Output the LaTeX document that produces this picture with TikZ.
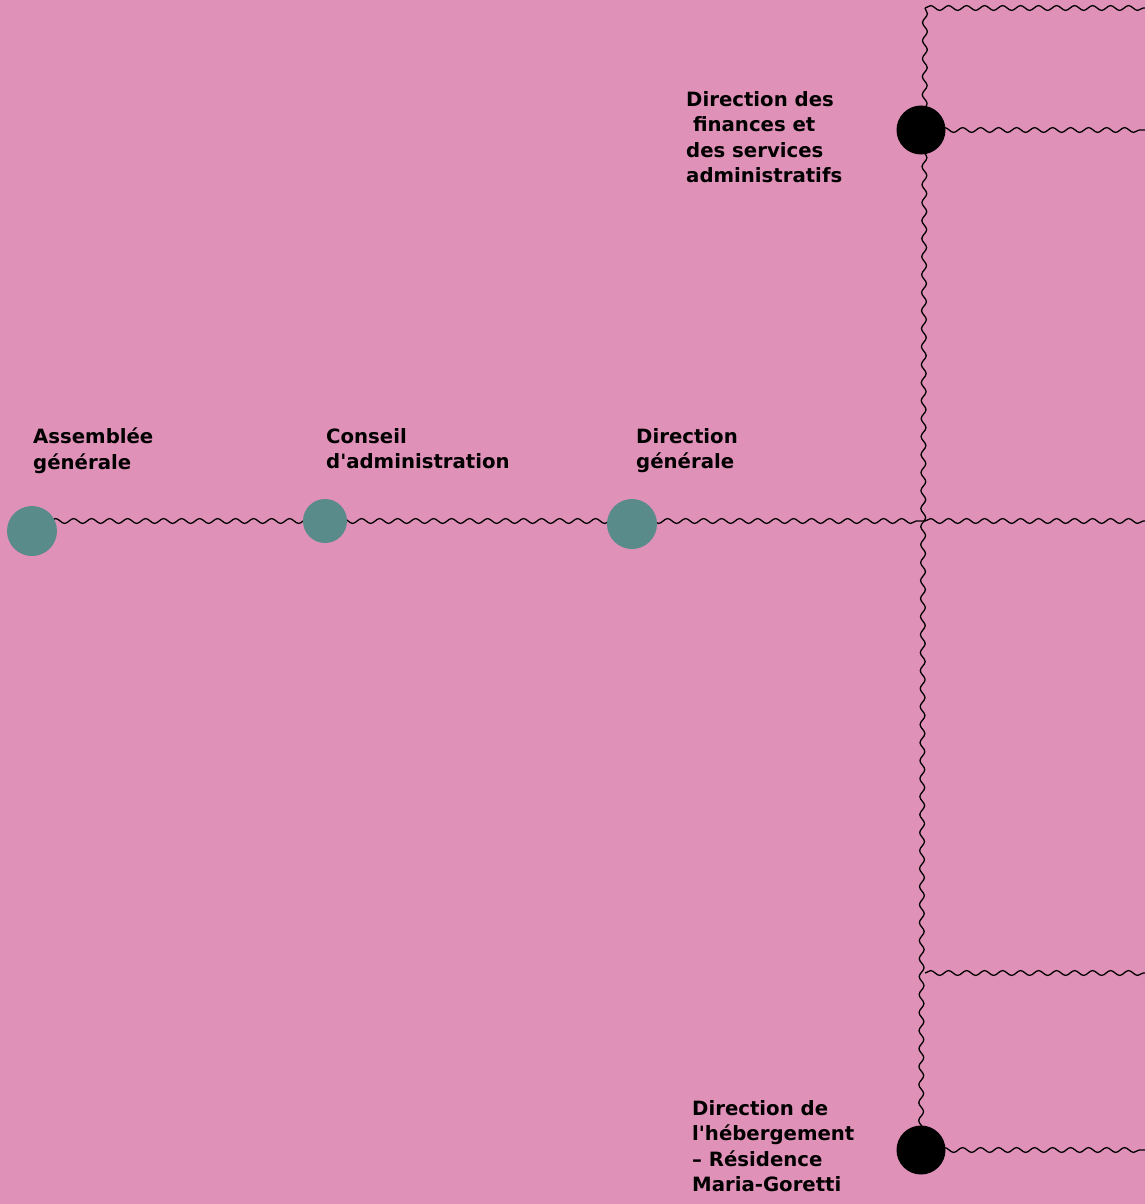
\documentclass[tikz,border=0pt]{standalone}
\usepackage{fontspec}
\setmainfont{DejaVu Sans}
\usetikzlibrary{decorations.pathmorphing}

\definecolor{bgpink}{RGB}{224,145,184}
\definecolor{nodeteal}{RGB}{89,139,138}

\tikzset{
	wave/.style={draw=black, line width=1.3pt, decorate,
		decoration={snake, segment length=18pt, amplitude=2.4pt}},
	bigdot/.style={circle, inner sep=0pt, minimum size=#1},
	boarddot/.style={bigdot=50pt, fill=nodeteal},
	dirdot/.style={bigdot=49pt, fill=black},
	unitlabel/.style={anchor=north west, inner sep=0pt, align=left,
		font=\bfseries\fontsize{19.7}{25.5}\selectfont}
}

\begin{document}
\begin{tikzpicture}[x=1pt, y=-1pt]
		\fill[bgpink] (0,0) rectangle (1145,1204);
		\useasboundingbox (0,0) rectangle (1145,1204);

		\coordinate (top) at (925,8);
		\coordinate (topend) at (1145,8);
		\coordinate (mid) at (925,521);
		\coordinate (midend) at (1145,521);
		\coordinate (low) at (925,973);
		\coordinate (lowend) at (1145,973);
		\coordinate (finend) at (1145,130);
		\coordinate (hebend) at (1145,1150);

		\draw[wave] (32,521) -- (mid);
		\draw[wave] (top) -- (921,1150);
		\draw[wave] (top) -- (topend);
		\draw[wave] (921,130) -- (finend);
		\draw[wave] (mid) -- (midend);
		\draw[wave] (low) -- (lowend);
		\draw[wave] (921,1150) -- (hebend);

		\node[boarddot] (ag) at (32,531) {};
		\node[boarddot, bigdot=44pt] (ca) at (325,521) {};
		\node[boarddot] (dg) at (632,524) {};
		\node[dirdot] (dfsa) at (921,130) {};
		\node[dirdot] (dh) at (921,1150) {};

		\node[unitlabel] (agtext) at (33,428) {Assemblée\\générale};
		\node[unitlabel] (catext) at (326,428) {Conseil\\d\textquotesingle administration};
		\node[unitlabel] (dgtext) at (636,428) {Direction\\générale};
		\node[unitlabel] (dfsatext) at (686,91) {Direction des\\\ finances et\\des services\\administratifs};
		\node[unitlabel] (dhtext) at (692,1100) {Direction de\\l\textquotesingle hébergement\\– Résidence\\Maria-Goretti};
	\end{tikzpicture}
\end{document}
